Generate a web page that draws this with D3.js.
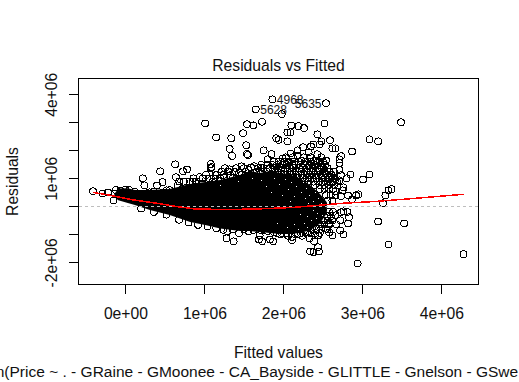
<!DOCTYPE html>
<html>
<head>
<meta charset="utf-8">
<script src="https://cdnjs.cloudflare.com/ajax/libs/d3/7.8.5/d3.min.js"></script>
<style>
body { margin: 0; background: #fff; overflow: hidden; }
svg { display: block; }
text { font-family: "Liberation Sans", Arial, sans-serif; fill: #111; font-size: 15.7px; }
</style>
</head>
<body>
<svg width="519" height="382"></svg>
<script>
// values are in millions
var xTicks = [0, 1, 2, 3, 4];
var xTickLabels = ["0e+00", "1e+06", "2e+06", "3e+06", "4e+06"];
var yTicks = [-2, -1, 0, 1, 2, 3, 4];
var yTickLabels = ["-2e+06", "", "", "1e+06", "", "", "4e+06"];

var titleText = "Residuals vs Fitted";
var xLabelText = "Fitted values";
var yLabelText = "Residuals";
var captionText = "lm(Price ~ . - GRaine - GMoonee - CA_Bayside - GLITTLE - Gnelson - GSwe";

// the overplotted black mass: fitted, upper residual, lower residual
var massFitted = [-0.14, -0.09, 0.03, 0.12, 0.31, 0.56, 0.82, 1.01, 1.20, 1.45, 1.58, 1.70, 1.83, 1.96, 2.08, 2.21, 2.34, 2.46, 2.55];
var massUpper = [0.44, 0.64, 0.65, 0.58, 0.58, 0.62, 0.80, 0.87, 0.94, 1.12, 1.26, 1.19, 1.26, 1.19, 1.15, 1.00, 0.75, 0.45, 0.15];
var massLower = [0.33, 0.22, 0.12, 0.05, -0.13, -0.31, -0.56, -0.67, -0.79, -0.88, -0.88, -0.92, -0.95, -0.99, -0.99, -0.95, -0.85, -0.62, -0.25];

// small white gaps left between circles inside the mass
var massGaps = [
  [1.88,1.02],[1.95,0.78],[2.02,0.98],[2.06,0.62],[2.10,0.86],[2.13,0.38],[2.16,0.72],[2.19,1.02],[2.22,0.52],[2.25,0.86],
  [2.27,0.30],[2.29,0.66],[2.31,0.12],[2.33,0.42],[2.36,0.70],[2.38,0.20],[2.40,0.52],[2.42,-0.24],[2.44,0.30],[2.30,-0.34],
  [2.21,-0.28],[2.14,-0.62],[2.26,-0.58],[2.35,-0.50],[2.41,-0.42],[2.18,-0.80],[2.30,-0.74],[2.04,-0.72],[1.92,-0.60],[2.37,-0.14],
  [1.72,0.94],[1.60,1.02],[1.42,0.92],[1.20,0.76],[1.78,0.72],[1.98,0.42],[2.08,0.18],[2.47,0.12],[2.49,-0.30],[1.84,0.50]
];

var outerPoints = [
  [1.86,3.82],[2.54,3.68],[1.98,3.29],[1.73,3.02],[1.65,3.46],[1.01,2.96],[2.52,2.96],[3.49,3.00],[2.10,2.89],[2.19,2.86],
  [2.26,2.79],[2.05,2.64],[2.09,2.64],[2.43,2.57],[1.91,2.43],[1.94,2.37],[2.05,2.32],[2.48,2.32],[2.59,2.36],[2.46,2.21],
  [2.38,2.21],[2.35,2.14],[2.25,2.11],[2.62,2.07],[2.66,2.07],[3.09,2.39],[3.20,2.32],[2.87,1.96],[1.75,2.00],[1.85,1.86],
  [1.80,1.68],[2.18,2.00],[2.09,1.89],[2.32,1.93],[2.43,1.86],[1.99,1.71],[2.18,1.80],[2.73,1.79],[2.71,1.68],[2.54,1.64],
  [2.71,1.54],[2.38,1.61],[2.23,1.64],[2.71,1.30],[2.85,1.14],[3.09,1.14],[3.01,0.96],[2.51,1.32],[2.46,1.30],[2.32,1.43],
  [2.42,1.54],[2.05,1.54],[2.57,0.96],[2.73,1.11],[2.66,0.96],[2.80,1.00],[2.76,0.68],[2.71,0.93],[3.37,0.61],[3.33,0.57],
  [3.29,0.39],[2.95,0.43],[2.92,0.39],[2.82,0.39],[2.87,0.25],[2.73,0.36],[2.66,0.54],[2.75,0.57],[3.26,0.11],
  [2.76,-0.18],[2.81,-0.20],[2.73,-0.21],[2.83,-0.39],[2.82,-0.61],[3.20,-0.54],[3.53,-0.61],[2.66,-0.32],[2.72,-0.50],
  [2.67,-0.64],[2.58,-0.61],[2.72,-0.86],[2.76,-1.00],[2.56,-0.82],[2.62,-1.04],[2.58,-0.93],[3.33,-1.36],[4.28,-1.71],
  [2.94,-2.04],[2.44,-1.46],[2.45,-1.61],[2.38,-1.64],[2.34,-1.61],[2.39,-1.25],[2.33,-1.14],[2.40,-1.04],[2.11,-1.21],
  [2.11,-1.09],[1.87,-1.25],[1.83,-1.18],[1.73,-1.25],[1.96,-1.00],[2.18,-1.00],[2.30,-0.93],[2.44,-1.04],
  [-0.41,0.54],[-0.29,0.46],[-0.22,0.50],[-0.15,0.21],[-0.13,0.46],[-0.12,0.58],[0.22,1.00],[0.24,0.75],[0.40,0.75],
  [0.47,0.86],[0.44,1.25],[0.63,1.50],[0.64,1.04],[0.66,0.75],[0.68,0.89],[0.81,0.89],[0.94,1.04],[0.97,0.82],[1.06,1.00],
  [1.14,1.11],[1.25,1.04],[1.10,0.86],[0.73,1.25],[0.78,1.32],[0.52,0.57],[1.15,2.46],[1.34,2.43],[1.54,2.93],[1.62,2.89],
  [1.49,2.61],[1.53,2.18],[1.32,2.05],[1.35,1.80],[1.55,1.83],[1.54,1.87],[1.08,1.51],[1.08,1.36],[1.09,1.40],[1.26,1.36],
  [1.32,1.32],[1.47,1.43],[1.33,1.11],[1.44,1.21],[1.59,1.39],[1.63,1.43],[1.71,1.39],[1.56,1.29],[1.90,1.21],[1.95,1.43],
  [1.63,1.18],[0.85,0.89],[1.28,-1.14],[1.37,-1.25],[1.29,-0.89],[1.44,-0.96],[1.56,-0.89],[1.69,-1.18],[1.70,-1.03],[1.92,-0.96]
];

// looser points around the edge of the mass
var edgePoints = [
  [0.00,0.60],[-0.06,0.55],[0.05,0.58],[0.12,0.52],[0.30,0.50],[0.36,0.52],[0.48,0.50],[0.56,0.58],[0.72,0.62],[0.88,0.70],
  [0.20,-0.08],[0.36,-0.20],[0.52,-0.30],[0.68,-0.48],[0.80,-0.58],[0.92,-0.66],[1.04,-0.72],[1.15,-0.78],[1.24,-0.84],[1.36,-0.82],
  [1.50,-0.82],[1.62,-0.84],[1.72,-0.86],[1.80,-0.88],[1.88,-0.92]
];

// the crowded right side of the cloud, one list of fitted values per residual level
var cloudResiduals = [1.75, 1.6, 1.48, 1.36, 1.24, 1.12, 1.0, 0.88, 0.76, 0.62, 0.4, 0.2, -0.2, -0.35, -0.5, -0.65, -0.8, -0.95, -1.05];
var cloudFitted = [
  [2.03, 2.12, 2.26, 2.34, 2.48],
  [1.88, 1.94, 2.01, 2.07, 2.14, 2.19, 2.28, 2.35, 2.44, 2.50],
  [1.72, 1.80, 1.86, 1.92, 1.99, 2.04, 2.11, 2.16, 2.22, 2.27, 2.33, 2.40, 2.47, 2.53],
  [1.40, 1.50, 1.68, 1.75, 1.83, 1.89, 1.97, 2.02, 2.08, 2.13, 2.20, 2.25, 2.30, 2.37, 2.43, 2.49, 2.56],
  [1.22, 1.30, 1.38, 1.52, 1.66, 1.72, 1.79, 1.86, 1.93, 2.00, 2.05, 2.11, 2.17, 2.23, 2.29, 2.35, 2.41, 2.46, 2.52, 2.58, 2.64],
  [1.02, 1.16, 1.24, 1.47, 1.58, 1.94, 2.03, 2.09, 2.15, 2.21, 2.27, 2.33, 2.39, 2.45, 2.50, 2.55, 2.61],
  [0.86, 0.98, 1.12, 1.20, 1.36, 2.12, 2.18, 2.24, 2.30, 2.36, 2.42, 2.48, 2.53, 2.59, 2.65],
  [0.74, 0.90, 2.26, 2.32, 2.38, 2.44, 2.50, 2.56, 2.62, 2.68],
  [2.40, 2.46, 2.52, 2.58, 2.64],
  [2.46, 2.52, 2.58, 2.63],
  [2.54, 2.60, 2.66],
  [2.56, 2.62],
  [2.58, 2.63],
  [2.55, 2.60],
  [2.50, 2.56, 2.62],
  [2.46, 2.52, 2.58],
  [2.36, 2.42, 2.48, 2.54],
  [1.98, 2.04, 2.10, 2.16, 2.22, 2.28, 2.34, 2.40, 2.46],
  [2.06, 2.24]
];

// red smoother
var smoothFitted = [-0.41, -0.15, 0.10, 0.40, 0.65, 0.90, 1.37, 1.70, 2.12, 2.33, 2.54, 2.75, 3.14, 3.60, 4.28];
var smoothResidual = [0.50, 0.37, 0.23, 0.11, -0.01, -0.10, -0.11, -0.09, -0.04, 0.01, 0.06, 0.11, 0.17, 0.27, 0.43];

var labelIds = ["4968", "5635", "5628"];
var labelFitted = [1.86, 2.54, 1.65];
var labelResidual = [3.82, 3.68, 3.46];
var labelSides = ["right", "left", "right"];

var plotLeft = 78.5, plotRight = 478.5, plotTop = 78.5, plotBottom = 284.5;

var x = d3.scaleLinear().domain([-0.594, 4.47]).range([plotLeft, plotRight]);
var y = d3.scaleLinear().domain([-2.79, 4.564]).range([plotBottom, plotTop]);

function drawAxes(svg){
    var bottom = d3.axisBottom(x)
        .tickValues(xTicks)
        .tickFormat(function(d, i) { return xTickLabels[i]; })
        .tickSize(9.5)
        .tickSizeOuter(0);
    var gx = svg.append("g")
        .attr("class", "x-axis")
        .attr("transform", "translate(0," + plotBottom + ")")
        .call(bottom);
    gx.select(".domain").remove();
    gx.selectAll("text")
        .attr("y", 0)
        .attr("dy", 0)
        .attr("transform", "translate(0,34.5)");

    var left = d3.axisLeft(y)
        .tickValues(yTicks)
        .tickFormat(function(d, i) { return yTickLabels[i]; })
        .tickSize(9.5)
        .tickSizeOuter(0);
    var gy = svg.append("g")
        .attr("class", "y-axis")
        .attr("transform", "translate(" + plotLeft + ",0)")
        .call(left);
    gy.select(".domain").remove();
    gy.selectAll(".tick text")
        .attr("x", 0)
        .attr("dy", 0)
        .attr("text-anchor", "middle")
        .attr("transform", "translate(-21.5,0) rotate(-90)");

    svg.selectAll(".tick line")
        .attr("stroke", "#000")
        .attr("shape-rendering", "crispEdges");
}

function drawLabels(svg){
    var midX = (plotLeft + plotRight) / 2;
    svg.append("text").attr("x", midX).attr("y", 71).attr("text-anchor", "middle")
        .text(titleText);
    svg.append("text").attr("x", midX).attr("y", 358).attr("text-anchor", "middle")
        .text(xLabelText);
    svg.append("text").attr("x", -12).attr("y", 377)
        .style("font-size", "15.5px")
        .text(captionText);
    svg.append("text")
        .attr("transform", "translate(18," + (plotTop + plotBottom) / 2 + ") rotate(-90)")
        .attr("text-anchor", "middle")
        .text(yLabelText);
}

function cloudPoints(){
    var points = [];
    cloudResiduals.forEach(function(r, i) {
        cloudFitted[i].forEach(function(f) { points.push([f, r]); });
    });
    return points;
}

function drawPlot(svg){
    var plot = svg.append("g");

    var mass = d3.area()
        .x(function(d, i) { return x(massFitted[i]); })
        .y0(function(d, i) { return y(massLower[i]); })
        .y1(function(d, i) { return y(massUpper[i]); });
    plot.append("path")
        .attr("d", mass(massFitted))
        .attr("fill", "#000");

    plot.selectAll("rect.gap")
        .data(massGaps)
        .enter()
        .append("rect")
        .attr("class", "gap")
        .attr("x", function(d) { return Math.round(x(d[0])); })
        .attr("y", function(d) { return Math.round(y(d[1])); })
        .attr("width", 1)
        .attr("height", 1)
        .attr("fill", "#fff");

    plot.selectAll("circle")
        .data(outerPoints.concat(edgePoints, cloudPoints()))
        .enter()
        .append("circle")
        .attr("cx", function(d) { return x(d[0]); })
        .attr("cy", function(d) { return y(d[1]); })
        .attr("r", 3.4)
        .attr("fill", "none")
        .attr("stroke", "#000")
        .attr("shape-rendering", "crispEdges");

    plot.append("line")
        .attr("x1", plotLeft).attr("x2", plotRight)
        .attr("y1", y(0)).attr("y2", y(0))
        .attr("stroke", "#bebebe")
        .attr("stroke-dasharray", "3,3")
        .attr("shape-rendering", "crispEdges");

    var smooth = d3.line()
        .x(function(d, i) { return x(smoothFitted[i]); })
        .y(function(d, i) { return y(smoothResidual[i]); });
    plot.append("path")
        .attr("d", smooth(smoothFitted))
        .attr("fill", "none")
        .attr("stroke", "#f00")
        .attr("stroke-width", 1.5)
        .attr("shape-rendering", "crispEdges");

    labelIds.forEach(function(id, i) {
        var right = labelSides[i] == "right";
        plot.append("text")
            .attr("x", x(labelFitted[i]) + (right ? 4.5 : -4.5))
            .attr("y", y(labelResidual[i]) + 4.5)
            .attr("text-anchor", right ? "start" : "end")
            .style("font-size", "12px")
            .text(id);
    });

    svg.append("rect")
        .attr("x", plotLeft).attr("y", plotTop)
        .attr("width", plotRight - plotLeft)
        .attr("height", plotBottom - plotTop)
        .attr("fill", "none")
        .attr("stroke", "#000")
        .attr("shape-rendering", "crispEdges");
}

var svg = d3.select("svg");
drawPlot(svg);
drawAxes(svg);
drawLabels(svg);
</script>
</body>
</html>
